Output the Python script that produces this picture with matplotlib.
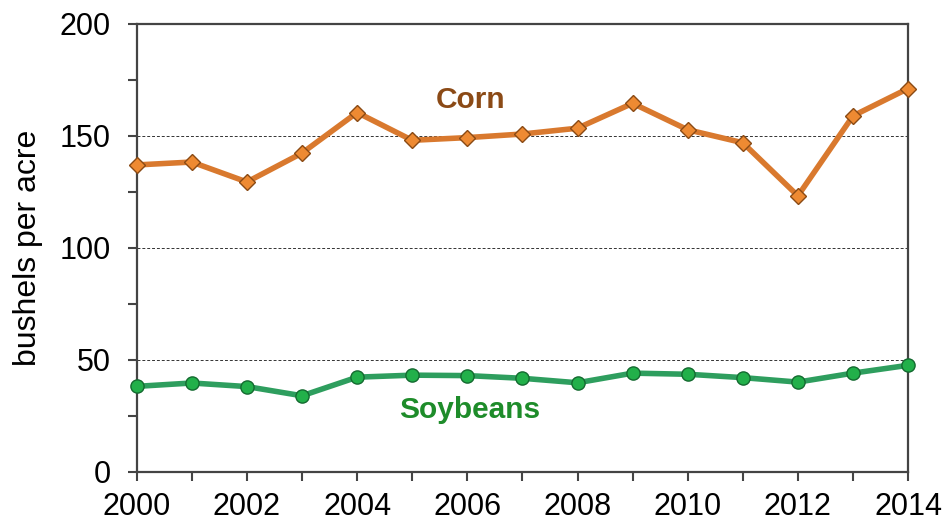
import matplotlib
matplotlib.use("Agg")
import matplotlib.pyplot as plt
from matplotlib.ticker import MultipleLocator

years = list(range(2000, 2015))
corn = [136.9, 138.2, 129.3, 142.2, 160.3, 147.9, 149.1, 150.7, 153.3, 164.4, 152.6, 146.8, 123.1, 158.8, 171.0]
soybeans = [38.1, 39.6, 38.0, 33.9, 42.2, 43.1, 42.9, 41.7, 39.7, 44.0, 43.5, 42.0, 40.0, 44.0, 47.5]
xtick_labels = [str(y) for y in range(2000, 2015, 2)]
yticks = [0, 50, 100, 150, 200]

plt.rcParams['font.family'] = ['Liberation Sans', 'DejaVu Sans']

fig = plt.figure(figsize=(9.43, 5.23), dpi=100)
ax = fig.add_axes([0.145, 0.098, 0.818, 0.857])

for y in [50, 100, 150]:
    ax.axhline(y, color='#333333', lw=0.7, ls=(0, (3, 2)), zorder=1)

ax.plot(years, corn, color='#D9792E', lw=4, marker='D', ms=8,
        mfc='#EE8A32', mec='#8A4A14', mew=1.0, zorder=3, clip_on=False)
ax.plot(years, soybeans, color='#2E9E5E', lw=4, marker='o', ms=9.5,
        mfc='#22B04A', mec='#146A30', mew=1.0, zorder=3, clip_on=False)

ax.text(2006.05, 166, 'Corn', color='#8B4A16', fontsize=21.5, fontweight='bold',
        ha='center', va='center')
ax.text(2006.05, 27.5, 'Soybeans', color='#1E8C2A', fontsize=21.5, fontweight='bold',
        ha='center', va='center')

ax.set_xlim(2000, 2014)
ax.set_ylim(0, 200)
ax.set_xticks(list(range(2000, 2015, 2)))
ax.set_xticklabels(xtick_labels)
ax.xaxis.set_minor_locator(MultipleLocator(1))
ax.set_yticks(yticks)
ax.yaxis.set_minor_locator(MultipleLocator(25))

ax.tick_params(axis='both', which='both', direction='out', color='#444444', width=1.5, length=6.5)
ax.tick_params(axis='both', which='major', labelsize=22)
ax.tick_params(axis='x', which='major', pad=8)
ax.tick_params(axis='y', which='major', pad=12)
for s in ax.spines.values():
    s.set_color('#444444')
    s.set_linewidth(1.6)

ax.set_ylabel('bushels per acre', fontsize=23, labelpad=12)

fig.savefig('out.png', dpi=100)
